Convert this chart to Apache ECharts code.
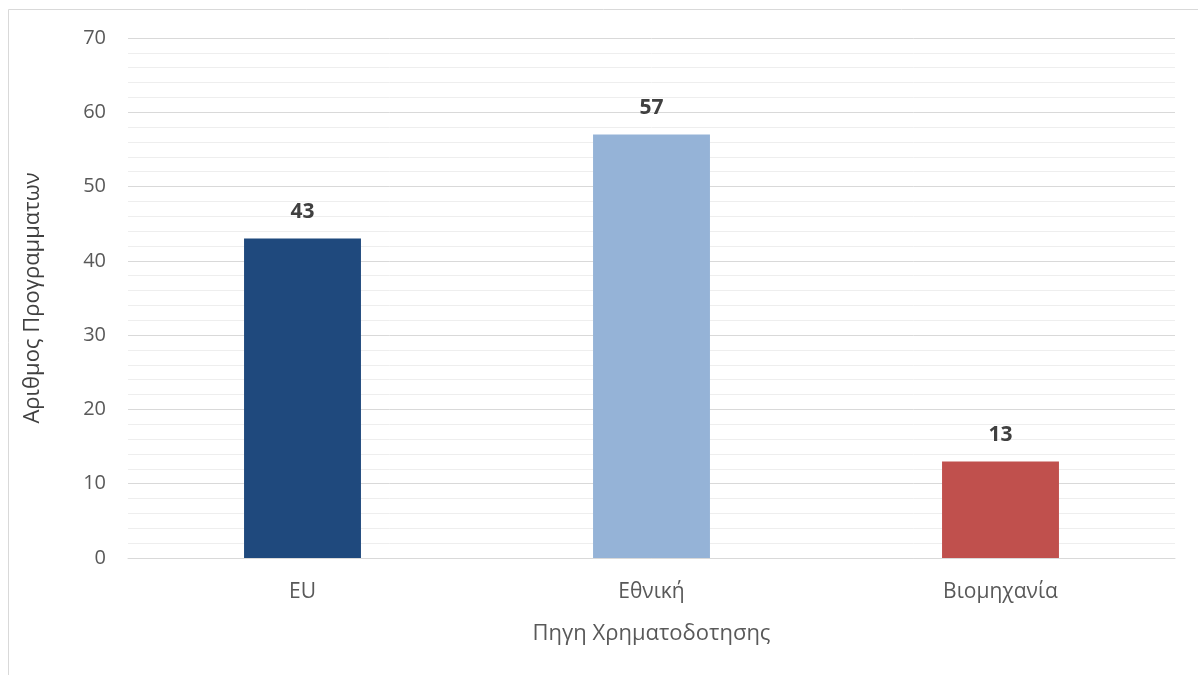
<!DOCTYPE html>
<html>
<head>
<meta charset="utf-8">
<script src="https://cdn.jsdelivr.net/npm/echarts@6/dist/echarts.min.js"></script>
<style>
  html, body { margin: 0; padding: 0; background: #fff; }
  #chart { width: 1198px; height: 675px; }
</style>
</head>
<body>
<div id="chart"></div>
<script>
// Funding sources and number of programmes per source
const categories = ['EU', 'Εθνική', 'Βιομηχανία'];
const programmeCounts = [43, 57, 13];
const barColors = ['#1F497D', '#95B3D7', '#C0504D'];
const yTicks = { min: 0, max: 70, interval: 10 };

const chart = echarts.init(document.getElementById('chart'));
const font = '"Open Sans", "Noto Sans", sans-serif';

chart.setOption({
  animation: false,
  backgroundColor: '#fff',
  graphic: [{
    type: 'rect',
    shape: { x: 8.5, y: 9.5, width: 1300, height: 800 },
    style: { fill: 'none', stroke: '#d9d9d9', lineWidth: 1 },
    silent: true
  }],
  grid: { left: 128, right: 23, top: 38, bottom: 117 },
  xAxis: {
    type: 'category',
    data: categories,
    name: 'Πηγη Χρηματοδοτησης',
    nameLocation: 'middle',
    nameGap: 65,
    nameTextStyle: { fontFamily: font, fontSize: 22, color: '#595959' },
    axisLine: { lineStyle: { color: '#d9d9d9', width: 1 } },
    axisTick: { show: false },
    axisLabel: { fontFamily: font, fontSize: 21, color: '#595959', margin: 24 }
  },
  yAxis: {
    type: 'value',
    min: yTicks.min,
    max: yTicks.max,
    interval: yTicks.interval,
    name: 'Αριθμος Προγραμματων',
    nameLocation: 'middle',
    nameGap: 84,
    nameRotate: 90,
    nameTextStyle: { fontFamily: font, fontSize: 22, color: '#404040' },
    axisLine: { show: false },
    axisTick: { show: false },
    axisLabel: { fontFamily: font, fontSize: 20, color: '#595959', margin: 22 },
    splitLine: { lineStyle: { color: '#d9d9d9', width: 1 } },
    minorTick: { show: false, splitNumber: 5 },
    minorSplitLine: { show: true, lineStyle: { color: '#eeeeee', width: 1 } }
  },
  series: [{
    type: 'bar',
    barWidth: '33.5%',
    data: programmeCounts.map((v, i) => ({ value: v, itemStyle: { color: barColors[i] } })),
    label: {
      show: true,
      position: 'top',
      distance: 16,
      fontFamily: font,
      fontSize: 21,
      fontWeight: 'bold',
      color: '#404040'
    }
  }]
});
</script>
</body>
</html>
